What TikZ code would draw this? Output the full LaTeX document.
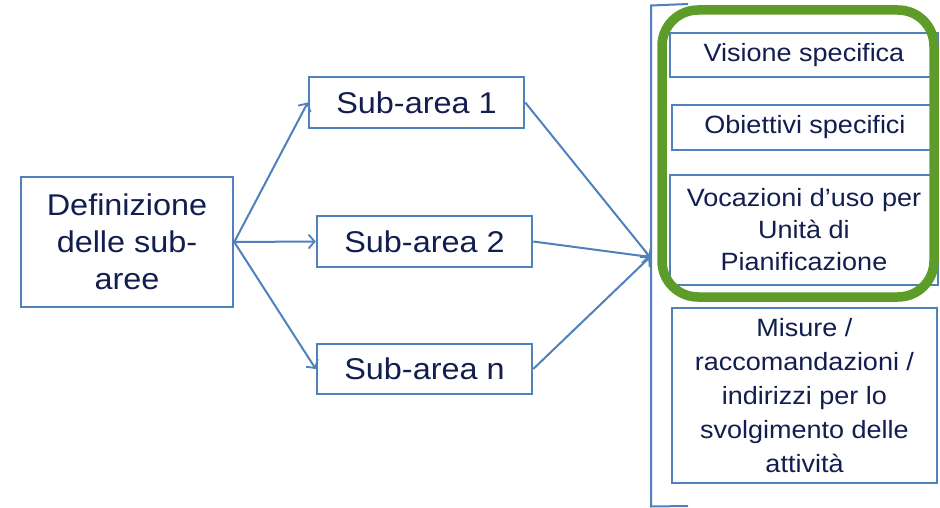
\documentclass[tikz,border=0pt]{standalone}
\usepackage{fontspec}
\setmainfont{Liberation Sans}[FakeStretch=1.08]
\usetikzlibrary{arrows.meta}
\definecolor{bl}{RGB}{79,129,189}
\definecolor{navy}{RGB}{18,30,80}
\definecolor{grn}{RGB}{94,156,42}
\begin{document}
\begin{tikzpicture}[x=1pt,y=-1pt,
  bx/.style={draw=bl,line width=2.5pt,fill=white,align=center,text=navy,inner sep=0pt},
  big/.style={font=\fontsize{30}{37}\selectfont},
  small/.style={font=\fontsize{25}{32}\selectfont},
  con/.style={draw=bl,line width=2pt,-{Straight Barb[length=6pt,width=14pt,line width=1.8pt]}}]
\useasboundingbox (0,0) rectangle (940,508);
\fill[white] (0,0) rectangle (940,508);
% left
\node[bx,big,minimum width=212pt,minimum height=130pt] (def) at (127,242) {Definizione\\delle sub-\\aree};
\node[bx,big,minimum width=215pt,minimum height=51pt] (s1) at (416.5,102.5) {Sub-area 1};
\node[bx,big,minimum width=215pt,minimum height=51pt] (s2) at (424.5,241.5) {Sub-area 2};
\node[bx,big,minimum width=215pt,minimum height=50pt] (sn) at (424.5,369) {Sub-area n};
\coordinate (conv) at (650,257);
\draw[con] (def.east) -- (s1.west);
\draw[con] (def.east) -- (s2.west);
\draw[con] (def.east) -- (sn.west);
\draw[con] (s1.east) -- (conv);
\draw[con] (s2.east) -- (conv);
\draw[con] (sn.east) -- (conv);
% bracket
\draw[bl,line width=2pt] (688,4) -- (651,5.5) -- (651,506.5) -- (688,506);
% right boxes
\node[bx,small,minimum width=268pt,minimum height=44pt] (vis) at (804,55) {Visione specifica};
\node[bx,small,minimum width=266pt,minimum height=45pt] (obi) at (805,127.5) {Obiettivi specifici};
\node[bx,small,minimum width=268pt,minimum height=110pt] (voc) at (804,230) {Vocazioni d’uso per\\Unità di\\Pianificazione};
\node[bx,small,font=\fontsize{25}{34}\selectfont,minimum width=265pt,minimum height=175pt] (mis) at (804.5,395.5) {Misure /\\raccomandazioni /\\indirizzi per lo\\svolgimento delle\\attività};
% green frame
\draw[grn,line width=9.5pt,rounded corners=36pt] (662,10) rectangle (934,297);
\end{tikzpicture}
\end{document}
